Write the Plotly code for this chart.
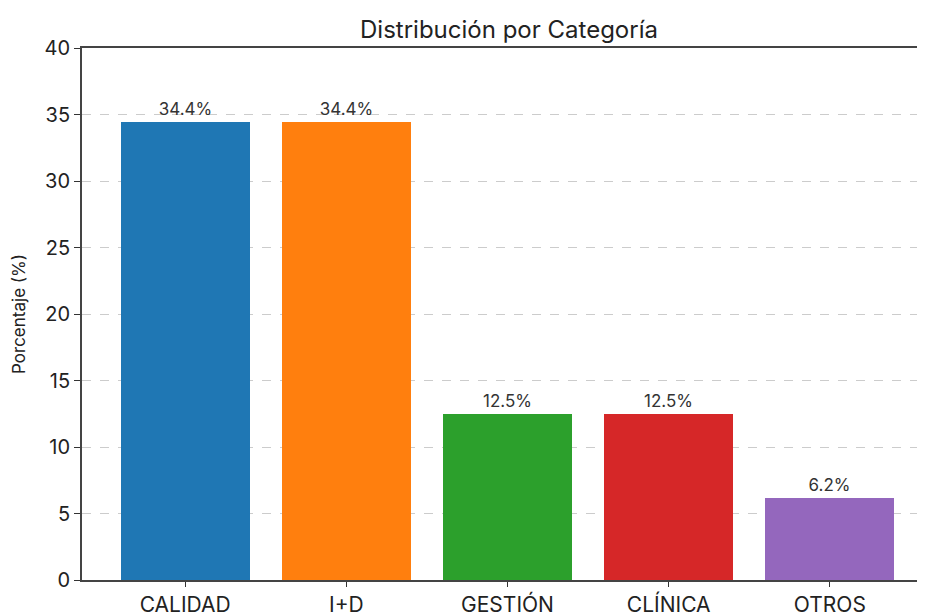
import plotly.graph_objects as go

categories = ["CALIDAD", "I+D", "GESTIÓN", "CLÍNICA", "OTROS"]
values = [34.4, 34.4, 12.5, 12.5, 6.2]
labels = ["34.4%", "34.4%", "12.5%", "12.5%", "6.2%"]
colors = ["#1f77b4", "#ff7f0e", "#2ca02c", "#d62728", "#9467bd"]
y_ticks = [0, 5, 10, 15, 20, 25, 30, 35, 40]

FONT = "Inter"
OFF = 8  # page body margin offset

fig = go.Figure()
fig.add_trace(go.Bar(
    x=list(range(len(categories))), y=values, width=0.8,
    marker=dict(color=colors, line=dict(width=0)),
    text=labels, textposition="outside", cliponaxis=False,
    textfont=dict(family=FONT, size=17, color="#333333"),
    hoverinfo="skip",
))

fig.update_layout(
    width=925, height=613,
    margin=dict(l=82 - OFF, r=0, t=48 - OFF, b=33 + OFF, autoexpand=False),
    paper_bgcolor="white", plot_bgcolor="white",
    showlegend=False,
    bargap=0,
    title=dict(text="Distribución por Categoría", x=(509 - OFF) / 925, xanchor="center",
               y=1 - (30 - OFF) / 613, yanchor="middle",
               font=dict(family=FONT, size=24, color="#222222")),
    font=dict(family=FONT, color="#222222"),
)

fig.update_xaxes(
    range=[-0.64, 4.64], automargin=False,
    tickmode="array", tickvals=list(range(len(categories))), ticktext=categories,
    tickfont=dict(family=FONT, size=21, color="#222222"),
    ticks="outside", ticklen=5, tickwidth=1.3, tickcolor="#333333",
    showline=True, linecolor="#444444", linewidth=1.8, mirror=True,
    showgrid=False, zeroline=False,
)
fig.update_yaxes(
    range=[0, 40], automargin=False,
    tickmode="array", tickvals=y_ticks,
    tickfont=dict(family=FONT, size=20, color="#222222"),
    ticks="outside", ticklen=6, tickwidth=1.3, tickcolor="#333333",
    showline=True, linecolor="#444444", linewidth=1.8,
    showgrid=True, gridcolor="#cccccc", griddash="dash", gridwidth=1,
    zeroline=False,
    title=dict(text="Porcentaje (%)", font=dict(family=FONT, size=17, color="#222222")),
)

fig.write_html("out.html")
